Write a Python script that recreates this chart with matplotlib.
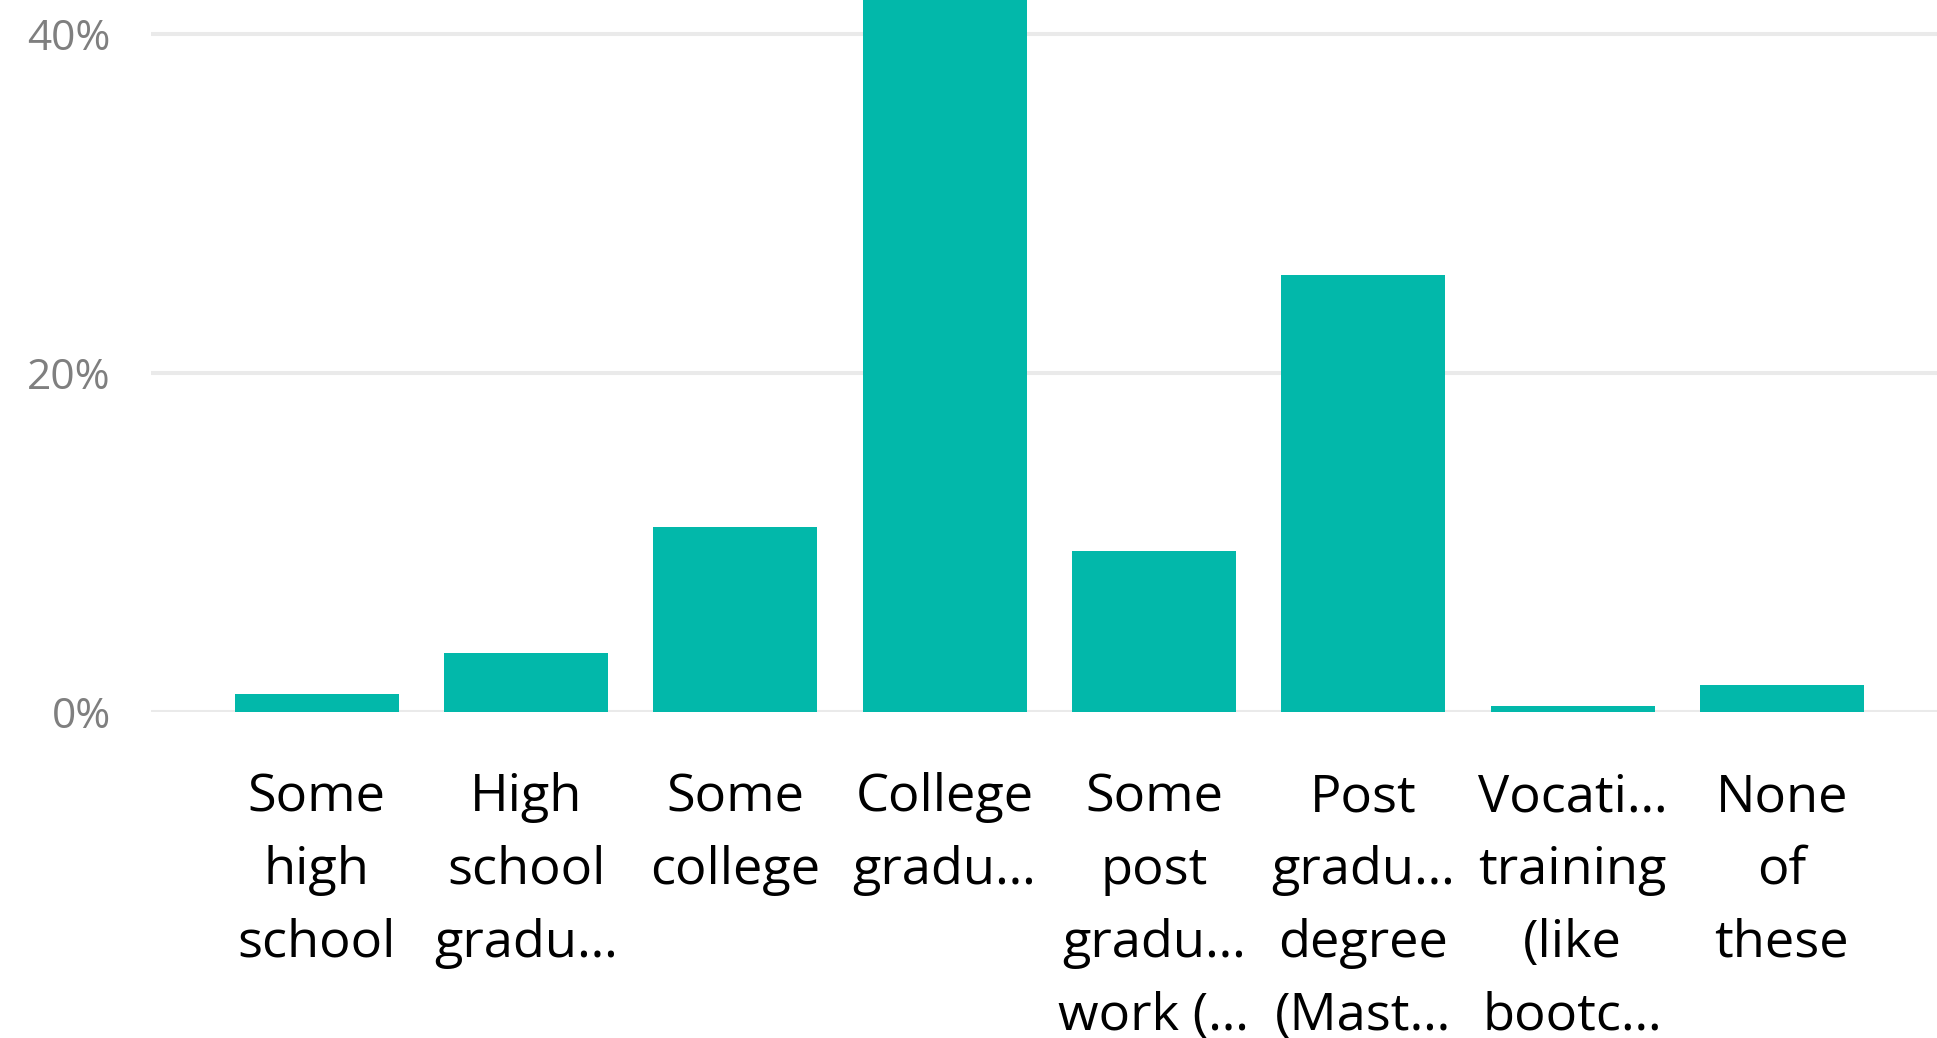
import matplotlib
matplotlib.use("Agg")
import matplotlib.pyplot as plt
from matplotlib.ticker import FixedLocator

# Education level shares (percent of respondents)
categories = [
    "Some\nhigh\nschool",
    "High\nschool\ngradu…",
    "Some\ncollege",
    "College\ngradu…",
    "Some\npost\ngradu…\nwork (…",
    "Post\ngradu…\ndegree\n(Mast…",
    "Vocati…\ntraining\n(like\nbootc…",
    "None\nof\nthese",
]
shares = [1.1, 3.5, 10.9, 47.2, 9.5, 25.8, 0.4, 1.6]
y_ticks = [0, 20, 40]
y_tick_labels = ["0%", "20%", "40%"]

BAR_COLOR = "#02B8AA"
GRID_COLOR = "#EAEAEA"
TICK_GRAY = "#7F7F7F"

plt.rcParams["font.family"] = ["Open Sans", "DejaVu Sans"]

W, H, DPI = 1937, 1038, 100
fig = plt.figure(figsize=(W / DPI, H / DPI), dpi=DPI)
fig.patch.set_facecolor("white")

ax_left = 151 / W
ax_bottom = (H - 712.3) / H
ax = fig.add_axes([ax_left, ax_bottom, 1 - ax_left, 1 - ax_bottom])

x = list(range(len(categories)))
ax.bar(x, shares, width=0.784, color=BAR_COLOR, zorder=3)

ax.set_xlim(-0.792, 7.741)
ax.set_ylim(0, 42.01)

ax.yaxis.set_major_locator(FixedLocator(y_ticks))
ax.set_yticklabels(y_tick_labels)
ax.grid(axis="y", color=GRID_COLOR, linewidth=2.9, zorder=0)
ax.set_axisbelow(True)

ax.set_xticks(x)
ax.set_xticklabels(categories, fontsize=37.7, color="black",
                   linespacing=1.56, ha="center", va="top")

ax.tick_params(axis="y", length=0, pad=29, labelsize=30.5, labelcolor=TICK_GRAY)
ax.tick_params(axis="x", length=0, pad=43)

for side in ("top", "right", "left", "bottom"):
    ax.spines[side].set_visible(False)

fig.savefig("out.png", dpi=DPI, facecolor="white")
